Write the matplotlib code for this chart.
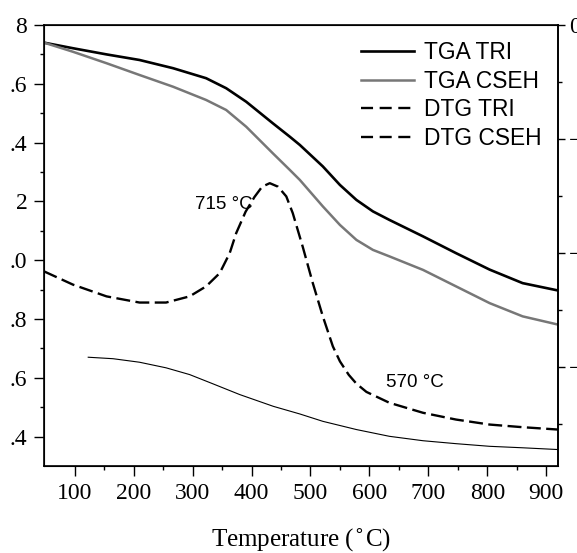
import matplotlib
matplotlib.use("Agg")
import matplotlib.pyplot as plt
from matplotlib.lines import Line2D

# values (left axis units)
tga_tri_t = [48, 97, 154, 210, 267, 323, 357, 391, 436, 465, 482, 521, 550, 578, 606, 634, 691, 747,
             804, 860, 920]
tga_tri = [1.740, 1.721, 1.700, 1.681, 1.653, 1.619, 1.585, 1.539, 1.466, 1.420, 1.392, 1.319, 1.256,
           1.205, 1.166, 1.137, 1.081, 1.024, 0.968, 0.922, 0.897]

tga_cseh_t = [48, 97, 154, 210, 267, 323, 357, 391, 436, 465, 482, 521, 550, 578, 606, 634, 691, 747,
              804, 860, 920]
tga_cseh = [1.740, 1.709, 1.670, 1.630, 1.590, 1.545, 1.511, 1.454, 1.364, 1.307, 1.273, 1.183, 1.120,
            1.069, 1.035, 1.013, 0.967, 0.911, 0.854, 0.809, 0.781]

dtg_tri_t = [48, 97, 154, 210, 255, 295, 323, 346, 363, 374, 390, 405, 418, 431, 445, 459, 470, 487,
             504, 521, 538, 550, 565, 578, 595, 634, 691, 747, 804, 860, 920]
dtg_tri = [0.962, 0.917, 0.877, 0.856, 0.856, 0.877, 0.911, 0.956, 1.024, 1.092, 1.165, 1.215, 1.250,
           1.262, 1.250, 1.217, 1.160, 1.045, 0.922, 0.809, 0.707, 0.656, 0.610, 0.580, 0.552, 0.515,
           0.481, 0.458, 0.441, 0.432, 0.424]

dtg_cseh_t = [123, 165, 210, 255, 295, 334, 380, 437, 482, 521, 578, 634, 691, 747, 804, 860, 920]
dtg_cseh = [0.670, 0.665, 0.653, 0.634, 0.611, 0.580, 0.543, 0.503, 0.477, 0.452, 0.424, 0.401, 0.386,
            0.376, 0.367, 0.362, 0.356]

# tick labels as they appear (cut at the left edge of the picture)
left_ticks = [1.8, 1.6, 1.4, 1.2, 1.0, 0.8, 0.6, 0.4]
left_labels = ["8", ".6", ".4", "2", ".0", ".8", ".6", ".4"]
x_ticks = [100, 200, 300, 400, 500, 600, 700, 800, 900]
right_ticks = [0, -2, -4, -6]
right_labels = ["0", "\u22122", "\u22124", "\u22126"]

peak_labels = ["715 \u00b0C", "570 \u00b0C"]
peak_pos = [(353, 1.188), (678, 0.584)]

serif = "Liberation Serif"
sans = "Liberation Sans"

fig = plt.figure(figsize=(5.77, 5.53), dpi=100)
ax = fig.add_axes([0.0763, 0.1573, 0.8908, 0.7975])

ax.plot(tga_tri_t, tga_tri, color="black", lw=1.9)
ax.plot(tga_cseh_t, tga_cseh, color="#777777", lw=1.8)
ax.plot(dtg_tri_t, dtg_tri, color="black", lw=1.7, dashes=(5.9, 2.3))
ax.plot(dtg_cseh_t, dtg_cseh, color="black", lw=0.8)

ax.set_xlim(48, 920)
ax.set_ylim(0.30, 1.80)

ax.set_xticks(x_ticks)
ax.set_xticks([150, 250, 350, 450, 550, 650, 750, 850], minor=True)
ax.set_yticks(left_ticks)
ax.set_yticklabels(left_labels)
ax.set_yticks([1.7, 1.5, 1.3, 1.1, 0.9, 0.7, 0.5], minor=True)
ax.tick_params(which="major", direction="out", length=7, width=1, pad=5,
               labelsize=17, top=False, right=False)
ax.tick_params(which="minor", direction="out", length=3, width=1, top=False, right=False)
for lab in ax.get_xticklabels() + ax.get_yticklabels():
    lab.set_fontfamily(serif)

for sp in ax.spines.values():
    sp.set_linewidth(1.2)

ax.set_xlabel("Temperature ($^{\\circ}$C)", fontfamily=serif, fontsize=18, labelpad=17)

ax2 = ax.twinx()
ax2.set_ylim(-7.74, 0)
ax2.set_yticks(right_ticks)
ax2.set_yticklabels(right_labels)
ax2.set_yticks([-1, -3, -5, -7], minor=True)
ax2.tick_params(which="major", direction="out", length=5, width=1, pad=3, labelsize=17)
ax2.tick_params(which="minor", direction="out", length=3, width=1)
for lab in ax2.get_yticklabels():
    lab.set_fontfamily(serif)
ax2.spines["right"].set_linewidth(1.2)

for txt, (tx, ty) in zip(peak_labels, peak_pos):
    ax.text(tx, ty, txt, fontfamily=sans, fontsize=13.5, ha="center", va="center")

handles = [
    Line2D([], [], color="black", lw=1.9),
    Line2D([], [], color="#777777", lw=1.8),
    Line2D([], [], color="black", lw=1.7, dashes=(5.1, 2.8)),
    Line2D([], [], color="black", lw=1.7, dashes=(5.1, 2.8)),
]
names = ["TGA TRI", "TGA CSEH", "DTG TRI", "DTG CSEH"]
ax.legend(handles, names, loc="upper right", bbox_to_anchor=(1.0, 1.0), frameon=False,
          prop={"family": sans, "size": 16.4}, handlelength=2.33, handletextpad=0.45,
          labelspacing=0.25, borderaxespad=0.4, borderpad=0.3)

fig.savefig("out.png", dpi=100)
